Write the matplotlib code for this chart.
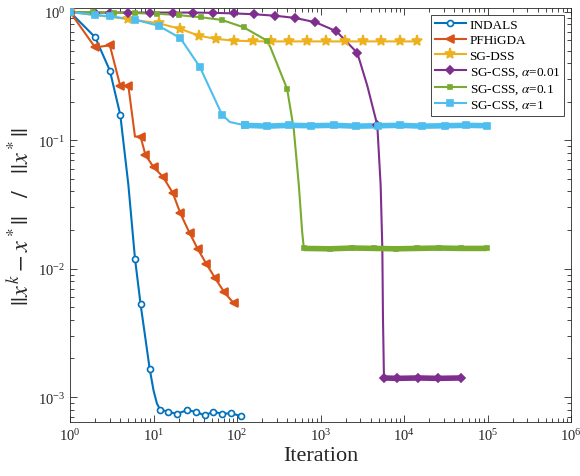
import matplotlib.pyplot as plt
from matplotlib.lines import Line2D
from matplotlib.ticker import LogLocator, NullFormatter

plt.rcParams["font.family"] = ["Liberation Serif", "DejaVu Serif"]
plt.rcParams["mathtext.fontset"] = "stix"

C_INDALS = "#0072BD"
C_PFH = "#D95319"
C_DSS = "#EDB120"
C_CSS001 = "#7E2F8E"
C_CSS01 = "#77AC30"
C_CSS1 = "#4DBEEE"

# INDALS
indals_x = [1, 2, 3, 4, 5, 6, 7, 9, 10, 11, 12, 15, 19, 25, 32, 41, 52, 67, 85, 112]
indals_y = [1.0, 0.636, 0.35, 0.158, 0.045, 0.012, 0.0053, 0.00166, 0.00113, 0.00089,
            0.00080, 0.00077, 0.00074, 0.00079, 0.00077, 0.00072, 0.00077, 0.00074,
            0.00075, 0.00071]
indals_marks = [0, 1, 2, 3, 5, 6, 7, 10, 11, 12, 13, 14, 15, 16, 17, 18, 19]

# PFHiGDA
pfh_x = [1, 2, 3, 4, 5, 6, 7, 8, 10, 13, 17, 21, 27, 34, 43, 55, 70, 91]
pfh_y = [1.0, 0.53, 0.55, 0.265, 0.265, 0.107, 0.107, 0.077, 0.062, 0.052, 0.039,
         0.027, 0.019, 0.0142, 0.0109, 0.0084, 0.0066, 0.0054]
pfh_marks = [0, 1, 2, 3, 4, 6, 7, 8, 9, 10, 11, 12, 13, 14, 15, 16, 17]

# SG-DSS
dss_x = [1, 5, 11.5, 21, 35, 56, 93, 155, 257, 417, 698, 1170, 1950, 3230, 5370,
         8900, 14500]
dss_y = [1.0, 0.88, 0.817, 0.738, 0.654, 0.617, 0.598, 0.592, 0.59, 0.59, 0.59, 0.59,
         0.59, 0.59, 0.59, 0.59, 0.59]

# SG-CSS, alpha = 0.01
css001_x = [1, 2, 3, 5, 9, 17, 30, 52, 91, 161, 288, 490, 871, 1550, 2760, 3630, 4790,
            5250, 5500, 5600, 5750]
css001_y = [1.0, 0.99, 0.99, 0.99, 0.99, 0.99, 0.99, 0.985, 0.975, 0.96, 0.935, 0.9,
            0.832, 0.708, 0.48, 0.267, 0.131, 0.0447, 0.0144, 0.0041, 0.00145]
css001_marks = [0, 1, 2, 3, 4, 5, 6, 7, 8, 9, 10, 11, 12, 13, 14, 16]
css001_band_x = [5750, 8300, 14700, 25600, 47900]
css001_band_y = [0.00141, 0.00140, 0.00141, 0.00140, 0.00141]

# SG-CSS, alpha = 0.1
css01_x = [1, 1.9, 3.4, 6, 11, 20, 37, 66, 120, 229, 251, 398, 478, 550, 603, 630]
css01_y = [1.0, 0.995, 0.99, 0.98, 0.97, 0.945, 0.91, 0.867, 0.76, 0.598, 0.532,
           0.252, 0.123, 0.0447, 0.0194, 0.0146]
css01_marks = [0, 1, 2, 3, 4, 5, 6, 7, 8, 9, 11]
css01_band_x = [630, 1300, 2400, 4400, 8000, 14500, 26300, 47900, 98000]
css01_band_y = [0.0144, 0.0143, 0.0145, 0.0144, 0.0143, 0.0144, 0.0145, 0.0144, 0.0144]

# SG-CSS, alpha = 1
css1_x = [1, 2, 3, 6, 11.5, 21, 36, 66, 82, 125]
css1_y = [1.0, 0.948, 0.926, 0.871, 0.782, 0.625, 0.372, 0.159, 0.139, 0.131]
css1_marks = [0, 1, 2, 3, 4, 5, 6, 7, 9]
css1_band_x = [125, 230, 420, 780, 1440, 2650, 4900, 9000, 16600, 30600, 56000, 98000]
css1_band_y = [0.131, 0.129, 0.131, 0.130, 0.131, 0.129, 0.130, 0.131, 0.129, 0.130,
               0.131, 0.130]

fig = plt.figure(figsize=(5.8, 4.77), dpi=100)
ax = fig.add_axes([0.1207, 0.1132, 0.8638, 0.8679])

LW = 1.5


def draw(x, y, color, marker, ms, marks=None, mfc=None, band_x=None, band_y=None):
    ax.plot(x, y, color=color, lw=LW, zorder=2)
    if band_x is not None:
        ax.plot(band_x, band_y, color=color, lw=4.0, zorder=2, solid_capstyle="butt")
    if marks is None:
        marks = list(range(len(x)))
    mx = [x[i] for i in marks]
    my = [y[i] for i in marks]
    if band_x is not None:
        mx += band_x
        my += band_y
    ax.plot(mx, my, ls="none", marker=marker, ms=ms, color=color,
            mfc=mfc if mfc else color, mew=1.2, zorder=3)
    return Line2D([], [], color=color, lw=LW, marker=marker, ms=ms,
                  mfc=mfc if mfc else color, mew=1.2)


handles = [
    draw(indals_x, indals_y, C_INDALS, "o", 4.3, indals_marks, mfc="white"),
    draw(pfh_x, pfh_y, C_PFH, "<", 5.5, pfh_marks),
    draw(dss_x, dss_y, C_DSS, "*", 8),
    draw(css001_x, css001_y, C_CSS001, "D", 4.2, css001_marks,
         band_x=css001_band_x, band_y=css001_band_y),
    draw(css01_x, css01_y, C_CSS01, "s", 2.6, css01_marks,
         band_x=css01_band_x, band_y=css01_band_y),
    draw(css1_x, css1_y, C_CSS1, "s", 4.2, css1_marks,
         band_x=css1_band_x, band_y=css1_band_y),
]
labels = ["INDALS", "PFHiGDA", "SG-DSS", r"SG-CSS, $\alpha$=0.01",
          r"SG-CSS, $\alpha$=0.1", r"SG-CSS, $\alpha$=1"]

ax.set_xscale("log")
ax.set_yscale("log")
ax.set_xlim(1, 1e6)
ax.set_ylim(6.4e-4, 1.074)

ax.xaxis.set_major_locator(LogLocator(base=10, numticks=10))
ax.xaxis.set_minor_locator(LogLocator(base=10, subs=range(2, 10), numticks=20))
ax.xaxis.set_minor_formatter(NullFormatter())
ax.yaxis.set_minor_formatter(NullFormatter())

ax.tick_params(which="both", direction="in", top=True, right=True, colors="#262626",
               labelcolor="#262626", labelsize=10.5, width=0.6)
ax.tick_params(which="major", length=5)
ax.tick_params(which="minor", length=2.8)
for s in ax.spines.values():
    s.set_color("#262626")
    s.set_linewidth(0.6)

ax.set_xlabel("Iteration", fontsize=16, color="#262626", labelpad=2)
ax.set_ylabel(r"$||x^k-x^*||\quad/\quad||x^*||$", fontsize=17.5, color="#262626",
              labelpad=3)

leg = ax.legend(handles, labels, loc="upper right", fontsize=9.5, numpoints=1,
                fancybox=False, edgecolor="#262626", framealpha=1,
                handlelength=2.3, handletextpad=0.3, labelspacing=0.25,
                borderpad=0.3, borderaxespad=0.5)
leg.get_frame().set_linewidth(0.6)

fig.savefig("out.png", dpi=100)
